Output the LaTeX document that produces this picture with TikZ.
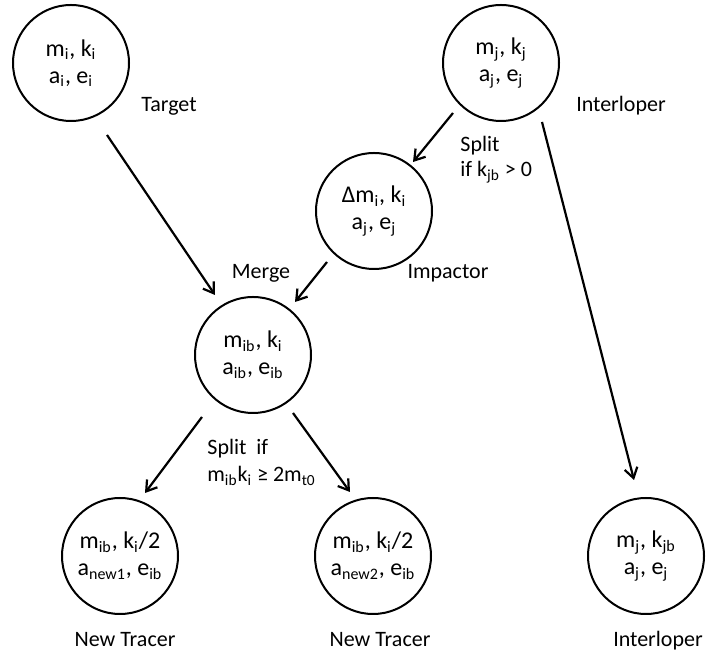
\documentclass[tikz,border=0pt]{standalone}
\usepackage{fontspec}
\setmainfont{Carlito}
\usetikzlibrary{arrows.meta,calc}
\newcommand\sbs[1]{\textsubscript{#1}}
\begin{document}
\begin{tikzpicture}[x=0.5pt,y=-0.5pt,
  state/.style={draw, circle, line width=1pt, minimum size=58pt, inner sep=0pt, align=center, font=\fontsize{12}{13.5}\selectfont},
  lbl/.style={font=\fontsize{11}{13}\selectfont, inner sep=0pt},
  arr/.style={line width=1.1pt, -{Straight Barb[length=5pt,width=6.5pt]}}]
\useasboundingbox (0,0) rectangle (707,656);
% circles
\node[state] (tgt) at (71,63) {m\sbs{i}, k\sbs{i}\\a\sbs{i}, e\sbs{i}};
\node[state] (il) at (501,63) {m\sbs{j}, k\sbs{j}\\a\sbs{j}, e\sbs{j}};
\node[state] (imp) at (374,211) {Δm\sbs{i}, k\sbs{i}\\a\sbs{j}, e\sbs{j}};
\node[state] (mrg) at (253,355) {m\sbs{ib}, k\sbs{i}\\a\sbs{ib}, e\sbs{ib}};
\node[state] (bl) at (120,556) {m\sbs{ib}, k\sbs{i}/2\\a\sbs{new1}, e\sbs{ib}};
\node[state] (bm) at (373,556) {m\sbs{ib}, k\sbs{i}/2\\a\sbs{new2}, e\sbs{ib}};
\node[state] (br) at (646,556) {m\sbs{j}, k\sbs{jb}\\a\sbs{j}, e\sbs{j}};
% labels
\node[lbl, anchor=base] (ltgt) at (169,112) {Target};
\node[lbl, anchor=base] (lil) at (621,112) {Interloper};
\node[lbl, anchor=base west] (lsp1) at (460,152) {Split};
\node[lbl, anchor=base west] (lsp2) at (460,177) {if k\sbs{jb} > 0};
\node[lbl, anchor=base] (limp) at (448,279) {Impactor};
\node[lbl, anchor=base] (lmrg) at (261,279) {Merge};
\node[lbl, anchor=base west] (lsp3) at (207,455) {Split\ \ if};
\node[lbl, anchor=base west] (lsp4) at (207,482) {m\sbs{ib}k\sbs{i} ≥ 2m\sbs{t0}};
\node[lbl, anchor=base] (lnt1) at (125,647) {New Tracer};
\node[lbl, anchor=base] (lnt2) at (380,647) {New Tracer};
\node[lbl, anchor=base] (lil2) at (658,647) {Interloper};
% connectors
\draw[arr] ($(tgt)+(36,72)$) -- ($(mrg)+(-38,-60)$);
\draw[arr] ($(il)+(-48,50)$) -- ($(imp)+(39,-49)$);
\draw[arr] ($(imp)+(-47,51)$) -- ($(mrg)+(42,-53)$);
\draw[arr] ($(mrg)+(-51,62)$) -- ($(bl)+(25,-63)$);
\draw[arr] ($(mrg)+(40,58)$) -- ($(bm)+(-23,-64)$);
\draw[arr] ($(il)+(41,59)$) -- ($(br)+(-12,-76)$);
\end{tikzpicture}
\end{document}
